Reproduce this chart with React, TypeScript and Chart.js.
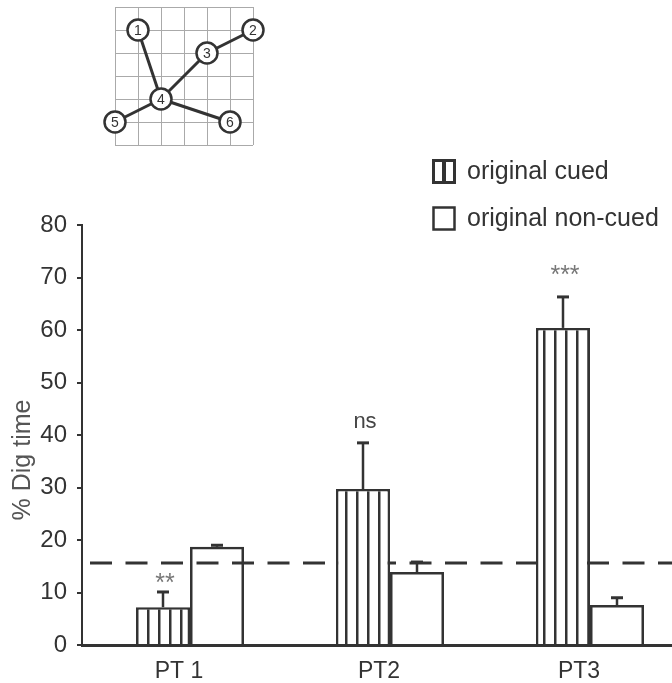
import React, { useEffect, useRef } from "react";
import { Chart, registerables } from "chart.js";

Chart.register(...registerables);

// ---- data ----
const categories = ["PT 1", "PT2", "PT3"];
const categoryPositions = [1, 2, 3];
const seriesLabels = ["original cued", "original non-cued"];
const cuedValues = [7.2, 29.7, 60.4];
const cuedErrors = [2.9, 8.8, 5.9];
const nonCuedValues = [18.7, 13.9, 7.6];
const nonCuedErrors = [0.3, 1.9, 1.4];
const significanceLabels = ["**", "ns", "***"];
const chanceLevel = 15.6;
const yTickValues = [0, 10, 20, 30, 40, 50, 60, 70, 80];
const yAxisTitle = "% Dig time";

// inset diagram (grid coordinates)
const insetNodeLabels = ["1", "2", "3", "4", "5", "6"];
const insetNodeCols = [1, 6, 4, 2, 0, 5];
const insetNodeRows = [1, 1, 2, 4, 5, 5];
const insetEdges: [number, number][] = [
  [0, 3],
  [3, 2],
  [2, 1],
  [3, 4],
  [3, 5],
];

const FONT = "'Liberation Sans', Arial, sans-serif";
const DARK = "#333";
// gap (px) between error-bar cap and annotation baseline
const ANNOTATION_GAPS = [1, 15, 14];

function makeStripePattern(ctx: CanvasRenderingContext2D) {
  const c = document.createElement("canvas");
  c.width = 11;
  c.height = 10;
  const g = c.getContext("2d")!;
  g.fillStyle = "#fff";
  g.fillRect(0, 0, 11, 10);
  g.fillStyle = DARK;
  g.fillRect(4, 0, 2.5, 10);
  return ctx.createPattern(c, "repeat");
}

const overlayPlugin = {
  id: "overlay",
  beforeDatasetsDraw(chart: any) {
    const { ctx, chartArea, scales } = chart;
    const y = scales.y.getPixelForValue(chanceLevel);
    ctx.save();
    ctx.strokeStyle = DARK;
    ctx.lineWidth = 3;
    ctx.setLineDash([22, 13.5]);
    ctx.beginPath();
    ctx.moveTo(chartArea.left + 8, y);
    ctx.lineTo(chartArea.right, y);
    ctx.stroke();
    ctx.restore();
  },
  afterDatasetsDraw(chart: any) {
    const { ctx, scales } = chart;
    const errs = [cuedErrors, nonCuedErrors];
    const vals = [cuedValues, nonCuedValues];
    ctx.save();
    ctx.strokeStyle = DARK;
    for (let d = 0; d < 2; d++) {
      const meta = chart.getDatasetMeta(d);
      meta.data.forEach((el: any, i: number) => {
        const x = el.x;
        const top = scales.y.getPixelForValue(vals[d][i] + errs[d][i]);
        ctx.lineWidth = 2.5;
        ctx.beginPath();
        ctx.moveTo(x, el.y);
        ctx.lineTo(x, top);
        ctx.stroke();
        ctx.lineWidth = 3;
        ctx.beginPath();
        ctx.moveTo(x - 6, top);
        ctx.lineTo(x + 6, top);
        ctx.stroke();
        if (d === 0) {
          const lab = significanceLabels[i];
          const isStar = lab.indexOf("*") >= 0;
          ctx.fillStyle = isStar ? "#777" : "#444";
          ctx.font = (isStar ? "25px " : "22px ") + FONT;
          ctx.textAlign = "center";
          ctx.textBaseline = "alphabetic";
          ctx.fillText(lab, x + 2, top - ANNOTATION_GAPS[i]);
        }
      });
    }
    ctx.restore();
  },
  afterDraw(chart: any) {
    const { ctx } = chart;
    ctx.save();
    // y-axis title
    ctx.save();
    ctx.translate(23, 460);
    ctx.rotate(-Math.PI / 2);
    ctx.fillStyle = "#555";
    ctx.font = "25px " + FONT;
    ctx.textAlign = "center";
    ctx.textBaseline = "middle";
    ctx.fillText(yAxisTitle, 0, 0);
    ctx.restore();

    // legend
    ctx.strokeStyle = DARK;
    ctx.lineWidth = 3;
    ctx.strokeRect(433.5, 160.5, 21, 22);
    ctx.lineWidth = 4;
    ctx.beginPath();
    ctx.moveTo(444, 160);
    ctx.lineTo(444, 183);
    ctx.stroke();
    ctx.lineWidth = 2.5;
    ctx.strokeRect(433.5, 207.5, 21, 22);
    ctx.fillStyle = DARK;
    ctx.font = "25px " + FONT;
    ctx.textAlign = "left";
    ctx.textBaseline = "middle";
    ctx.fillText(seriesLabels[0], 467, 172);
    ctx.fillText(seriesLabels[1], 467, 219);

    // inset diagram
    const ox = 115,
      oy = 7,
      cell = 23;
    ctx.strokeStyle = "#aaa";
    ctx.lineWidth = 1;
    for (let i = 0; i <= 6; i++) {
      ctx.beginPath();
      ctx.moveTo(ox + cell * i + 0.5, oy);
      ctx.lineTo(ox + cell * i + 0.5, oy + cell * 6);
      ctx.stroke();
      ctx.beginPath();
      ctx.moveTo(ox, oy + cell * i + 0.5);
      ctx.lineTo(ox + cell * 6, oy + cell * i + 0.5);
      ctx.stroke();
    }
    const px = (k: number) => ox + cell * insetNodeCols[k];
    const py = (k: number) => oy + cell * insetNodeRows[k];
    ctx.strokeStyle = DARK;
    ctx.lineWidth = 3;
    insetEdges.forEach(([a, b]) => {
      ctx.beginPath();
      ctx.moveTo(px(a), py(a));
      ctx.lineTo(px(b), py(b));
      ctx.stroke();
    });
    insetNodeLabels.forEach((lab, k) => {
      ctx.beginPath();
      ctx.arc(px(k), py(k), 10.5, 0, Math.PI * 2);
      ctx.fillStyle = "#fff";
      ctx.fill();
      ctx.lineWidth = 2.5;
      ctx.strokeStyle = DARK;
      ctx.stroke();
      ctx.fillStyle = DARK;
      ctx.font = "14px " + FONT;
      ctx.textAlign = "center";
      ctx.textBaseline = "middle";
      ctx.fillText(lab, px(k), py(k) + 1);
    });
    ctx.restore();
  },
};

export default function App() {
  const ref = useRef<HTMLCanvasElement | null>(null);
  useEffect(() => {
    const canvas = ref.current!;
    const ctx = canvas.getContext("2d")!;
    const pattern = makeStripePattern(ctx);
    const chart = new Chart(canvas, {
      type: "bar",
      data: {
        datasets: [
          {
            label: seriesLabels[0],
            data: categoryPositions.map((x, i) => ({ x, y: cuedValues[i] })),
            backgroundColor: pattern as any,
            borderColor: DARK,
            borderWidth: 2.5,
            categoryPercentage: 0.54,
            barPercentage: 1,
          },
          {
            label: seriesLabels[1],
            data: categoryPositions.map((x, i) => ({ x, y: nonCuedValues[i] })),
            backgroundColor: "rgba(0,0,0,0)",
            borderColor: DARK,
            borderWidth: 2.5,
            categoryPercentage: 0.54,
            barPercentage: 1,
          },
        ] as any,
      },
      options: {
        animation: false,
        responsive: false,
        devicePixelRatio: 1,
        layout: { padding: { top: 225, left: 0, right: 0, bottom: 0 } },
        plugins: { legend: { display: false }, tooltip: { enabled: false } },
        scales: {
          x: {
            type: "linear",
            offset: false,
            min: 0.46,
            max: 3.41,
            grid: { display: false, drawTicks: false, offset: false },
            border: { display: true, color: DARK, width: 3 },
            ticks: {
              color: DARK,
              font: { family: FONT, size: 23 },
              padding: 13,
              labelOffset: -11,
              maxRotation: 0,
              autoSkip: false,
              callback: (v: any) => {
                const i = categoryPositions.indexOf(Number(v));
                return i >= 0 ? categories[i] : "";
              },
            },
            afterBuildTicks: (s: any) => {
              s.ticks = categoryPositions.map((v) => ({ value: v }));
            },
            afterFit: (s: any) => {
              s.height = 38;
            },
          },
          y: {
            min: 0,
            max: 80,
            grid: {
              display: true,
              drawOnChartArea: false,
              drawTicks: true,
              tickLength: 5,
              color: DARK,
              lineWidth: 2,
            },
            border: { display: true, color: DARK, width: 2 },
            ticks: {
              color: DARK,
              font: { family: FONT, size: 24 },
              padding: 10,
              stepSize: 10,
            },
            afterBuildTicks: (s: any) => {
              s.ticks = yTickValues.map((v) => ({ value: v }));
            },
            afterFit: (s: any) => {
              s.width = 82;
            },
          },
        } as any,
      },
      plugins: [overlayPlugin],
    });
    return () => chart.destroy();
  }, []);
  return (
    <div style={{ position: "absolute", left: 0, top: 0, width: 672, height: 683 }}>
      <canvas ref={ref} width={672} height={683} style={{ display: "block" }} />
    </div>
  );
}
